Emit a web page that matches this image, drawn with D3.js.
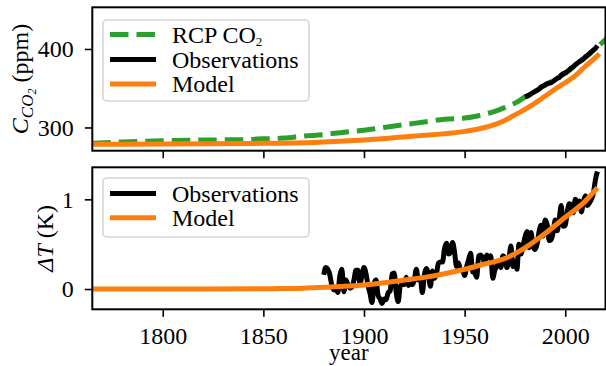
<!DOCTYPE html>
<html>
<head>
<meta charset="utf-8">
<script src="https://cdn.jsdelivr.net/npm/d3@7"></script>
<style>
  body { margin: 0; background: #fff; }
  svg text { font-family: "Liberation Serif", "Times New Roman", Tinos, "DejaVu Serif", serif !important; }
</style>
</head>
<body>
<div id="chart"></div>
<script>
// ---- data ----
var rcpYears = [1765, 1780, 1800, 1820, 1840, 1850, 1860, 1870, 1880, 1890, 1900, 1910, 1920, 1930, 1940, 1950, 1955, 1960, 1965, 1970, 1975, 1980, 1985, 1990, 1995, 2000, 2005, 2010, 2015, 2020, 2025, 2030];
var rcpCO2 = [280, 281.5, 283, 284, 284.5, 285.5, 286.5, 289, 291, 294, 296.5, 300, 303.5, 307, 310.5, 312, 314, 317, 320.5, 325.5, 331, 338.8, 346, 354, 361, 369, 379, 389.5, 400.5, 412, 426, 441];

var obsCO2Years = d3.range(1980, 2017);
var obsCO2 = [338.7, 339.9, 341.1, 342.8, 344.4, 345.9, 347.2, 348.9, 351.5, 352.9, 354.2, 355.6, 356.4, 357.1, 358.8, 360.8, 362.6, 363.7, 366.7, 368.4, 369.7, 371.3, 373.5, 375.8, 377.5, 379.8, 381.9, 383.8, 385.6, 387.4, 389.9, 391.7, 393.9, 396.5, 398.6, 400.8, 404.2];

var modelYears = [1765, 1800, 1850, 1875, 1900, 1925, 1950, 1960, 1970, 1975, 1980, 1985, 1990, 1995, 2000, 2005, 2010, 2015, 2017];
var modelCO2 = [278.5, 279, 279.8, 281, 284, 289, 295, 300, 309, 316, 323, 331, 340, 349, 357, 366, 378, 389, 394];

var modelTYears = [1765, 1800, 1850, 1860, 1870, 1880, 1890, 1900, 1910, 1920, 1930, 1940, 1950, 1960, 1970, 1980, 1990, 2000, 2010, 2016];
var modelT = [0, 0, 0.002, 0.005, 0.01, 0.02, 0.03, 0.045, 0.07, 0.1, 0.13, 0.17, 0.22, 0.28, 0.34, 0.46, 0.62, 0.8, 0.98, 1.13];

var obsTYears = d3.range(1880, 2017);
var obsT = [0.16, 0.24, 0.22, 0.16, 0.04, -0.01, 0.01, -0.04, 0.15, 0.22, -0.03, 0.10, 0.05, 0.01, 0.02, 0.10, 0.21, 0.21, 0.06, 0.15,
  0.24, 0.17, 0.04, -0.05, -0.15, 0.06, 0.10, -0.07, -0.11, -0.16, -0.11, -0.12, -0.04, -0.02, 0.17, 0.18, -0.04, -0.14, 0.03, 0.05,
  0.05, 0.13, 0.04, 0.06, 0.05, 0.10, 0.22, 0.10, 0.12, -0.04, 0.16, 0.23, 0.16, 0.03, 0.20, 0.12, 0.17, 0.29, 0.30, 0.30,
  0.45, 0.51, 0.39, 0.41, 0.52, 0.41, 0.25, 0.29, 0.21, 0.21, 0.15, 0.25, 0.33, 0.40, 0.19, 0.18, 0.13, 0.37, 0.38, 0.35,
  0.29, 0.38, 0.35, 0.37, 0.12, 0.21, 0.26, 0.30, 0.24, 0.37, 0.35, 0.24, 0.33, 0.48, 0.25, 0.31, 0.22, 0.50, 0.39, 0.48,
  0.58, 0.64, 0.46, 0.63, 0.48, 0.44, 0.50, 0.64, 0.71, 0.59, 0.77, 0.72, 0.54, 0.55, 0.63, 0.77, 0.65, 0.78, 0.93, 0.70,
  0.71, 0.86, 0.95, 0.94, 0.85, 1.00, 0.96, 0.98, 0.86, 0.97, 1.04, 0.93, 0.96, 1.00, 1.07, 1.22, 1.31];

var xTicks = [1800, 1850, 1900, 1950, 2000];
var co2Ticks = [300, 400];
var tTicks = [0, 1];

// ---- layout ----
var width = 606, height = 366;
var left = 92.3, right = 605.5;
var top1 = 7.3, bot1 = 150.7;
var top2 = 167.3, bot2 = 309.3;
var serif = "'Liberation Serif', 'Times New Roman', Tinos, 'DejaVu Serif', serif";

var svg = d3.select("#chart").append("svg")
  .attr("width", width)
  .attr("height", height)
  .style("background", "#fff");

var x = d3.scaleLinear().domain([1765, 2020]).range([left, right]);
var y1 = d3.scaleLinear().domain([270.4, 453.1]).range([bot1, top1]);
var y2 = d3.scaleLinear().domain([-0.226, 1.357]).range([bot2, top2]);

function clip(id, t, b) {
  svg.append("clipPath").attr("id", id)
    .append("rect").attr("x", left).attr("y", t).attr("width", right - left).attr("height", b - t);
}
clip("c1", top1, bot1);
clip("c2", top2, bot2);

function drawLine(g, xs, ys, yScale, color, dash) {
  var pts = xs.map(function(d, i) { return [d, ys[i]]; });
  var line = d3.line()
    .x(function(d) { return x(d[0]); })
    .y(function(d) { return yScale(d[1]); })
    .curve(d3.curveMonotoneX);
  var p = g.append("path")
    .attr("d", line(pts))
    .attr("fill", "none")
    .attr("stroke", color)
    .attr("stroke-width", 5)
    .attr("stroke-linejoin", "round");
  if (dash) p.attr("stroke-dasharray", dash);
  return p;
}

var green = "#2ca02c", orange = "#ff7f0e";

// panel 1
var g1 = svg.append("g").attr("clip-path", "url(#c1)");
drawLine(g1, rcpYears, rcpCO2, y1, green, "18.5,8");
drawLine(g1, obsCO2Years, obsCO2, y1, "black");
drawLine(g1, modelYears, modelCO2, y1, orange);

// panel 2
var g2 = svg.append("g").attr("clip-path", "url(#c2)");
drawLine(g2, obsTYears, obsT, y2, "black");
drawLine(g2, modelTYears, modelT, y2, orange);

// axes
function styleAxis(g) {
  g.attr("font-family", serif);
  g.select(".domain").remove();
  g.selectAll(".tick line").attr("stroke", "#000").attr("stroke-width", 1.6);
  g.selectAll(".tick text").attr("font-size", 24).attr("fill", "#000")
    .attr("font-family", serif);
}

svg.append("g").attr("transform", "translate(" + left + ",0)")
  .call(d3.axisLeft(y1).tickValues(co2Ticks).tickFormat(d3.format("d")).tickSize(7.5).tickPadding(11))
  .call(styleAxis);
svg.append("g").attr("transform", "translate(0," + bot1 + ")")
  .call(d3.axisBottom(x).tickValues(xTicks).tickFormat("").tickSize(7.5))
  .call(styleAxis);

svg.append("g").attr("transform", "translate(" + left + ",0)")
  .call(d3.axisLeft(y2).tickValues(tTicks).tickFormat(d3.format("d")).tickSize(7.5).tickPadding(11))
  .call(styleAxis);
svg.append("g").attr("transform", "translate(0," + bot2 + ")")
  .call(d3.axisBottom(x).tickValues(xTicks).tickFormat(d3.format("d")).tickSize(7.5).tickPadding(10))
  .call(styleAxis);

// frames
[[top1, bot1], [top2, bot2]].forEach(function(p) {
  svg.append("rect")
    .attr("x", left).attr("y", p[0])
    .attr("width", right - left).attr("height", p[1] - p[0])
    .attr("fill", "none").attr("stroke", "#000").attr("stroke-width", 2);
});

// legends
function legend(yTop, h, items) {
  svg.append("rect")
    .attr("x", 103).attr("y", yTop).attr("width", 206).attr("height", h)
    .attr("rx", 4)
    .attr("fill", "#fff").attr("fill-opacity", 0.8)
    .attr("stroke", "#d6d6d6").attr("stroke-width", 1.6);
  items.forEach(function(it) {
    var l = svg.append("line")
      .attr("x1", 110).attr("x2", 156).attr("y1", it.y).attr("y2", it.y)
      .attr("stroke", it.color).attr("stroke-width", 5);
    if (it.dash) l.attr("stroke-dasharray", it.dash);
    var t = svg.append("text").attr("x", 172).attr("y", it.y + 8)
      .attr("font-size", 24).attr("font-family", serif);
    t.append("tspan").text(it.label);
    if (it.sub) t.append("tspan").attr("font-size", 13).attr("dy", 3).text(it.sub);
  });
}
legend(20, 81, [
  {label: "RCP CO", sub: "2", color: green, dash: "18.5,8", y: 34.5},
  {label: "Observations", color: "black", y: 59.5},
  {label: "Model", color: orange, y: 84}
]);
legend(178, 59, [
  {label: "Observations", color: "black", y: 193.5},
  {label: "Model", color: orange, y: 217.7}
]);

// axis labels
var yl1 = svg.append("text")
  .attr("transform", "translate(28," + ((top1 + bot1) / 2) + ") rotate(-90)")
  .attr("text-anchor", "middle").attr("font-size", 24).attr("font-family", serif);
yl1.append("tspan").attr("font-style", "italic").text("C");
yl1.append("tspan").attr("font-style", "italic").attr("font-size", 17).attr("dy", 5).text("CO");
yl1.append("tspan").attr("font-style", "italic").attr("font-size", 12).attr("dy", 3).text("2");
yl1.append("tspan").attr("dy", -8).text(" (ppm)");

var yl2 = svg.append("text")
  .attr("transform", "translate(53," + ((top2 + bot2) / 2) + ") rotate(-90)")
  .attr("text-anchor", "middle").attr("font-size", 24).attr("font-family", serif);
yl2.append("tspan").attr("font-style", "italic").text("ΔT");
yl2.append("tspan").text(" (K)");

svg.append("text")
  .attr("x", (left + right) / 2).attr("y", 360)
  .attr("text-anchor", "middle").attr("font-size", 23).attr("font-family", serif)
  .text("year");
</script>
</body>
</html>
